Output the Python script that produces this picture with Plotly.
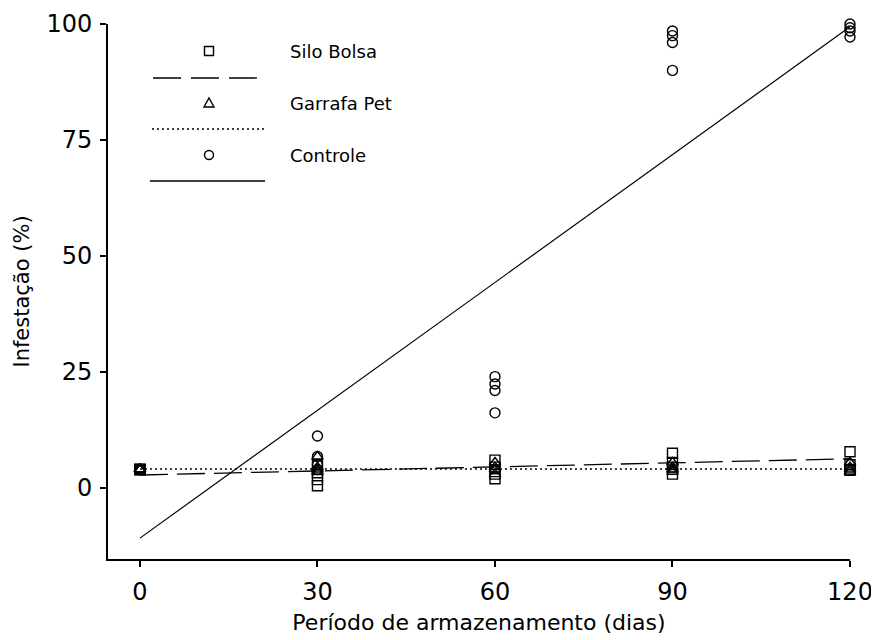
import plotly.graph_objects as go

# ---- data ----
dias = [0, 30, 60, 90, 120]
silo_bolsa = [[4.0, 4.0, 4.0, 4.0], [5.0, 3.3, 1.8, 0.5], [6.0, 4.5, 3.0, 2.0],
              [7.5, 5.5, 4.5, 3.0], [7.8, 5.0, 4.0, 3.8]]
garrafa_pet = [[4.0, 4.0, 4.0, 4.0], [6.8, 4.5, 4.0, 3.5], [5.5, 4.5, 4.0, 3.0],
               [5.5, 4.5, 4.0, 3.5], [5.5, 4.5, 4.0, 3.5]]
controle = [[4.0, 4.0, 4.0, 4.0], [11.2, 6.8, 5.0, 4.0], [24.0, 22.4, 21.0, 16.2],
            [98.5, 97.5, 96.0, 90.0], [100.0, 99.2, 98.5, 97.2]]
ajuste_x = [0, 120]
ajuste_silo = [2.8, 6.3]
ajuste_pet = [4.1, 4.1]
ajuste_controle = [-10.8, 99.4]
y_ticks = [0, 25, 50, 75, 100]
nomes = ["Silo Bolsa", "Garrafa Pet", "Controle"]

FONT = "DejaVu Sans"
OFF = 8  # page body margin
W, H = 871, 632
L, T = 108 - OFF, 24 - OFF
R = W - (850 - OFF)
B = H - (559 - OFF)
PW, PH = W - L - R, H - T - B


def flat(groups):
    xs, ys = [], []
    for d, vals in zip(dias, groups):
        for v in vals:
            xs.append(d)
            ys.append(v)
    return xs, ys


fig = go.Figure()
marker_line = dict(color="black", width=1.4)
for grp, sym in [(silo_bolsa, "square-open"), (garrafa_pet, "triangle-up-open"),
                 (controle, "circle-open")]:
    xs, ys = flat(grp)
    fig.add_trace(go.Scatter(x=xs, y=ys, mode="markers", cliponaxis=False,
                             marker=dict(symbol=sym, size=10, color="black",
                                         line=marker_line),
                             showlegend=False))

fig.add_trace(go.Scatter(x=ajuste_x, y=ajuste_silo, mode="lines",
                         line=dict(color="black", width=1.3, dash="28px,9px"),
                         showlegend=False))
fig.add_trace(go.Scatter(x=ajuste_x, y=ajuste_pet, mode="lines",
                         line=dict(color="black", width=1.3, dash="2px,3px"),
                         showlegend=False))
fig.add_trace(go.Scatter(x=ajuste_x, y=ajuste_controle, mode="lines",
                         line=dict(color="black", width=1.2),
                         showlegend=False))


# screen pixel -> paper coordinates
def px(x):
    return (x - OFF - L) / PW


def py(y):
    return (H - B - (y - OFF)) / PH


shapes = []
annotations = []
mx = 209
rows = [(51, 78, "28px,10px", 153, 257), (103, 129, "2px,3px", 152, 265),
        (155, 181, "solid", 150, 265)]
for i, (ym, yl, dash, x0, x1) in enumerate(rows):
    shapes.append(dict(type="line", xref="paper", yref="paper",
                       x0=px(x0), x1=px(x1), y0=py(yl), y1=py(yl),
                       line=dict(color="black", width=1.3, dash=dash)))
    annotations.append(dict(xref="paper", yref="paper", x=px(288), y=py(ym),
                            text=nomes[i], showarrow=False, xanchor="left",
                            yanchor="middle",
                            font=dict(family=FONT, size=18, color="black")))
s = 4.5
shapes.append(dict(type="rect", xref="paper", yref="paper",
                   x0=px(mx - s), x1=px(mx + s), y0=py(51 - s), y1=py(51 + s),
                   line=dict(color="black", width=1.4)))
tx0, ty0 = px(mx - 5), py(103 + 4)
tx1, ty1 = px(mx + 5), py(103 + 4)
tx2, ty2 = px(mx), py(103 - 5)
shapes.append(dict(type="path", xref="paper", yref="paper",
                   path=f"M {tx0} {ty0} L {tx1} {ty1} L {tx2} {ty2} Z",
                   line=dict(color="black", width=1.4)))
shapes.append(dict(type="circle", xref="paper", yref="paper",
                   x0=px(mx - 4.5), x1=px(mx + 4.5), y0=py(155 - 4.5), y1=py(155 + 4.5),
                   line=dict(color="black", width=1.4)))

fig.update_layout(
    width=W, height=H,
    margin=dict(l=L, r=R, t=T, b=B, autoexpand=False),
    plot_bgcolor="white", paper_bgcolor="white",
    font=dict(family=FONT, size=20, color="black"),
    shapes=shapes, annotations=annotations,
    showlegend=False,
)
fig.update_xaxes(range=[-5.4, 120], tickvals=dias, ticks="outside", ticklen=6,
                 tickwidth=1.5, tickcolor="black", showline=True, linecolor="black",
                 linewidth=1.8, showgrid=False, zeroline=False, automargin=False,
                 tickfont=dict(family=FONT, size=24), ticklabelstandoff=4,
                 title=dict(text="Período de armazenamento (dias)", standoff=10,
                            font=dict(family=FONT, size=22)))
fig.update_yaxes(range=[-15.3, 100], tickvals=y_ticks, ticks="outside", ticklen=6,
                 tickwidth=1.5, tickcolor="black", showline=True, linecolor="black",
                 linewidth=1.8, showgrid=False, zeroline=False, automargin=False,
                 tickfont=dict(family=FONT, size=24), ticklabelstandoff=3,
                 title=dict(text="Infestação (%)", standoff=11,
                            font=dict(family=FONT, size=21)))

fig.write_html("out.html")
